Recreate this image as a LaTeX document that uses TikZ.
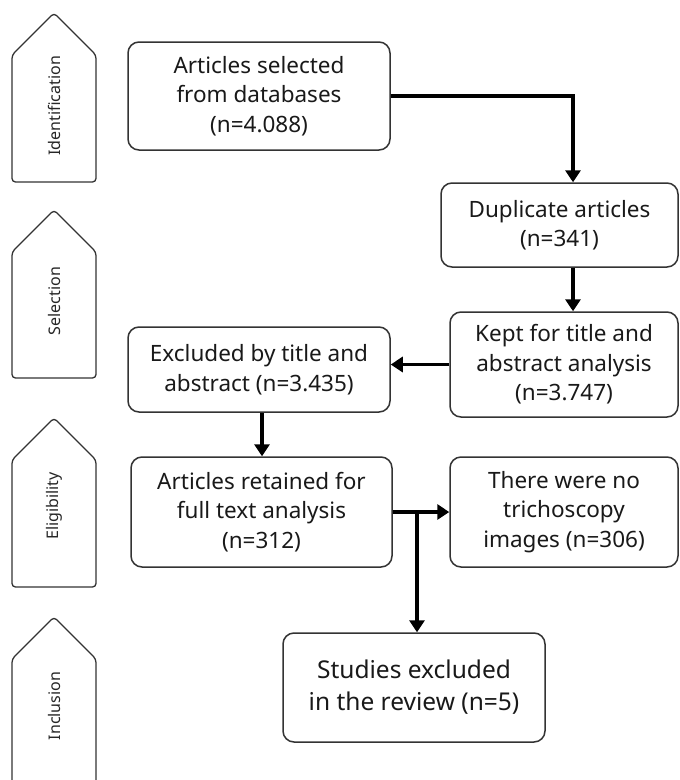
\documentclass[tikz,border=0pt]{standalone}
\usepackage{fontspec}
\setmainfont{Noto Sans}
\usetikzlibrary{arrows.meta}
\begin{document}
\begin{tikzpicture}[x=1pt,y=-1pt,
  box/.style={draw=black!80, line width=1.5pt, rounded corners=11pt, align=center,
    font=\fontsize{22.5}{29.5}\selectfont, text=black!90, inner sep=0pt},
  phase/.style={draw=black!80, line width=1.3pt, rounded corners=3.5pt},
  plabel/.style={rotate=90, font=\fontsize{16}{18}\selectfont, text=black!85, inner sep=0pt},
  arr/.style={line width=3.4pt, draw=black, -{Triangle[length=12pt,width=15pt]}},
]
\clip (0,0) rectangle (680,780);
\fill[white] (0,0) rectangle (680,780);

% phase tags
\draw[phase] (12,55) -- (54,13) -- (96,55) -- (96,182) -- (12,182) -- cycle;
\draw[phase] (12,252) -- (54,210) -- (96,252) -- (96,378) -- (12,378) -- cycle;
\draw[phase] (12,460) -- (54,418) -- (96,460) -- (96,587) -- (12,587) -- cycle;
\draw[phase] (12,659) -- (54,617) -- (96,659) -- (96,820) -- (12,820) -- cycle;
\node[plabel] (pid) at (54,106) {Identification};
\node[plabel] (psel) at (54,301) {Selection};
\node[plabel] (pel) at (54,506) {Eligibility};
\node[plabel] (pinc) at (54,706) {Inclusion};

% boxes
\node[box, minimum width=262pt, minimum height=108pt] (b1) at (259,96)
  {Articles selected\\from databases\\(n=4.088)};
\node[box, minimum width=237pt, minimum height=84pt] (b2) at (559.5,225)
  {Duplicate articles\\(n=341)};
\node[box, minimum width=228pt, minimum height=105pt] (b3) at (564,364.5)
  {Kept for title and\\abstract analysis\\(n=3.747)};
\node[box, minimum width=262pt, minimum height=85pt] (b4) at (259,369.5)
  {Excluded by title and\\abstract (n=3.435)};
\node[box, minimum width=261pt, minimum height=110pt] (b5) at (261.5,512)
  {Articles retained for\\full text analysis\\(n=312)};
\node[box, minimum width=228pt, minimum height=110pt] (b6) at (564,512)
  {There were no\\trichoscopy\\images (n=306)};
\node[box, minimum width=262pt, minimum height=109pt, font=\fontsize{24.5}{32}\selectfont] (b7) at (414,687.5)
  {Studies excluded\\in the review (n=5)};

% connectors
\draw[arr] (b1.east) -| ([xshift=13.5pt]b2.north);
\draw[arr] ([xshift=13.5pt]b2.south) -- ([xshift=13.5pt]b2.south |- b3.north);
\draw[arr] (b3.west) -- (b3.west -| b4.east);
\draw[arr] ([xshift=3pt]b4.south) -- ([xshift=3pt]b4.south |- b5.north);
\draw[arr] (b5.east) -- (b6.west);
\coordinate (br) at (417,512);
\draw[arr] (br) -- (br |- b7.north);
\end{tikzpicture}
\end{document}
